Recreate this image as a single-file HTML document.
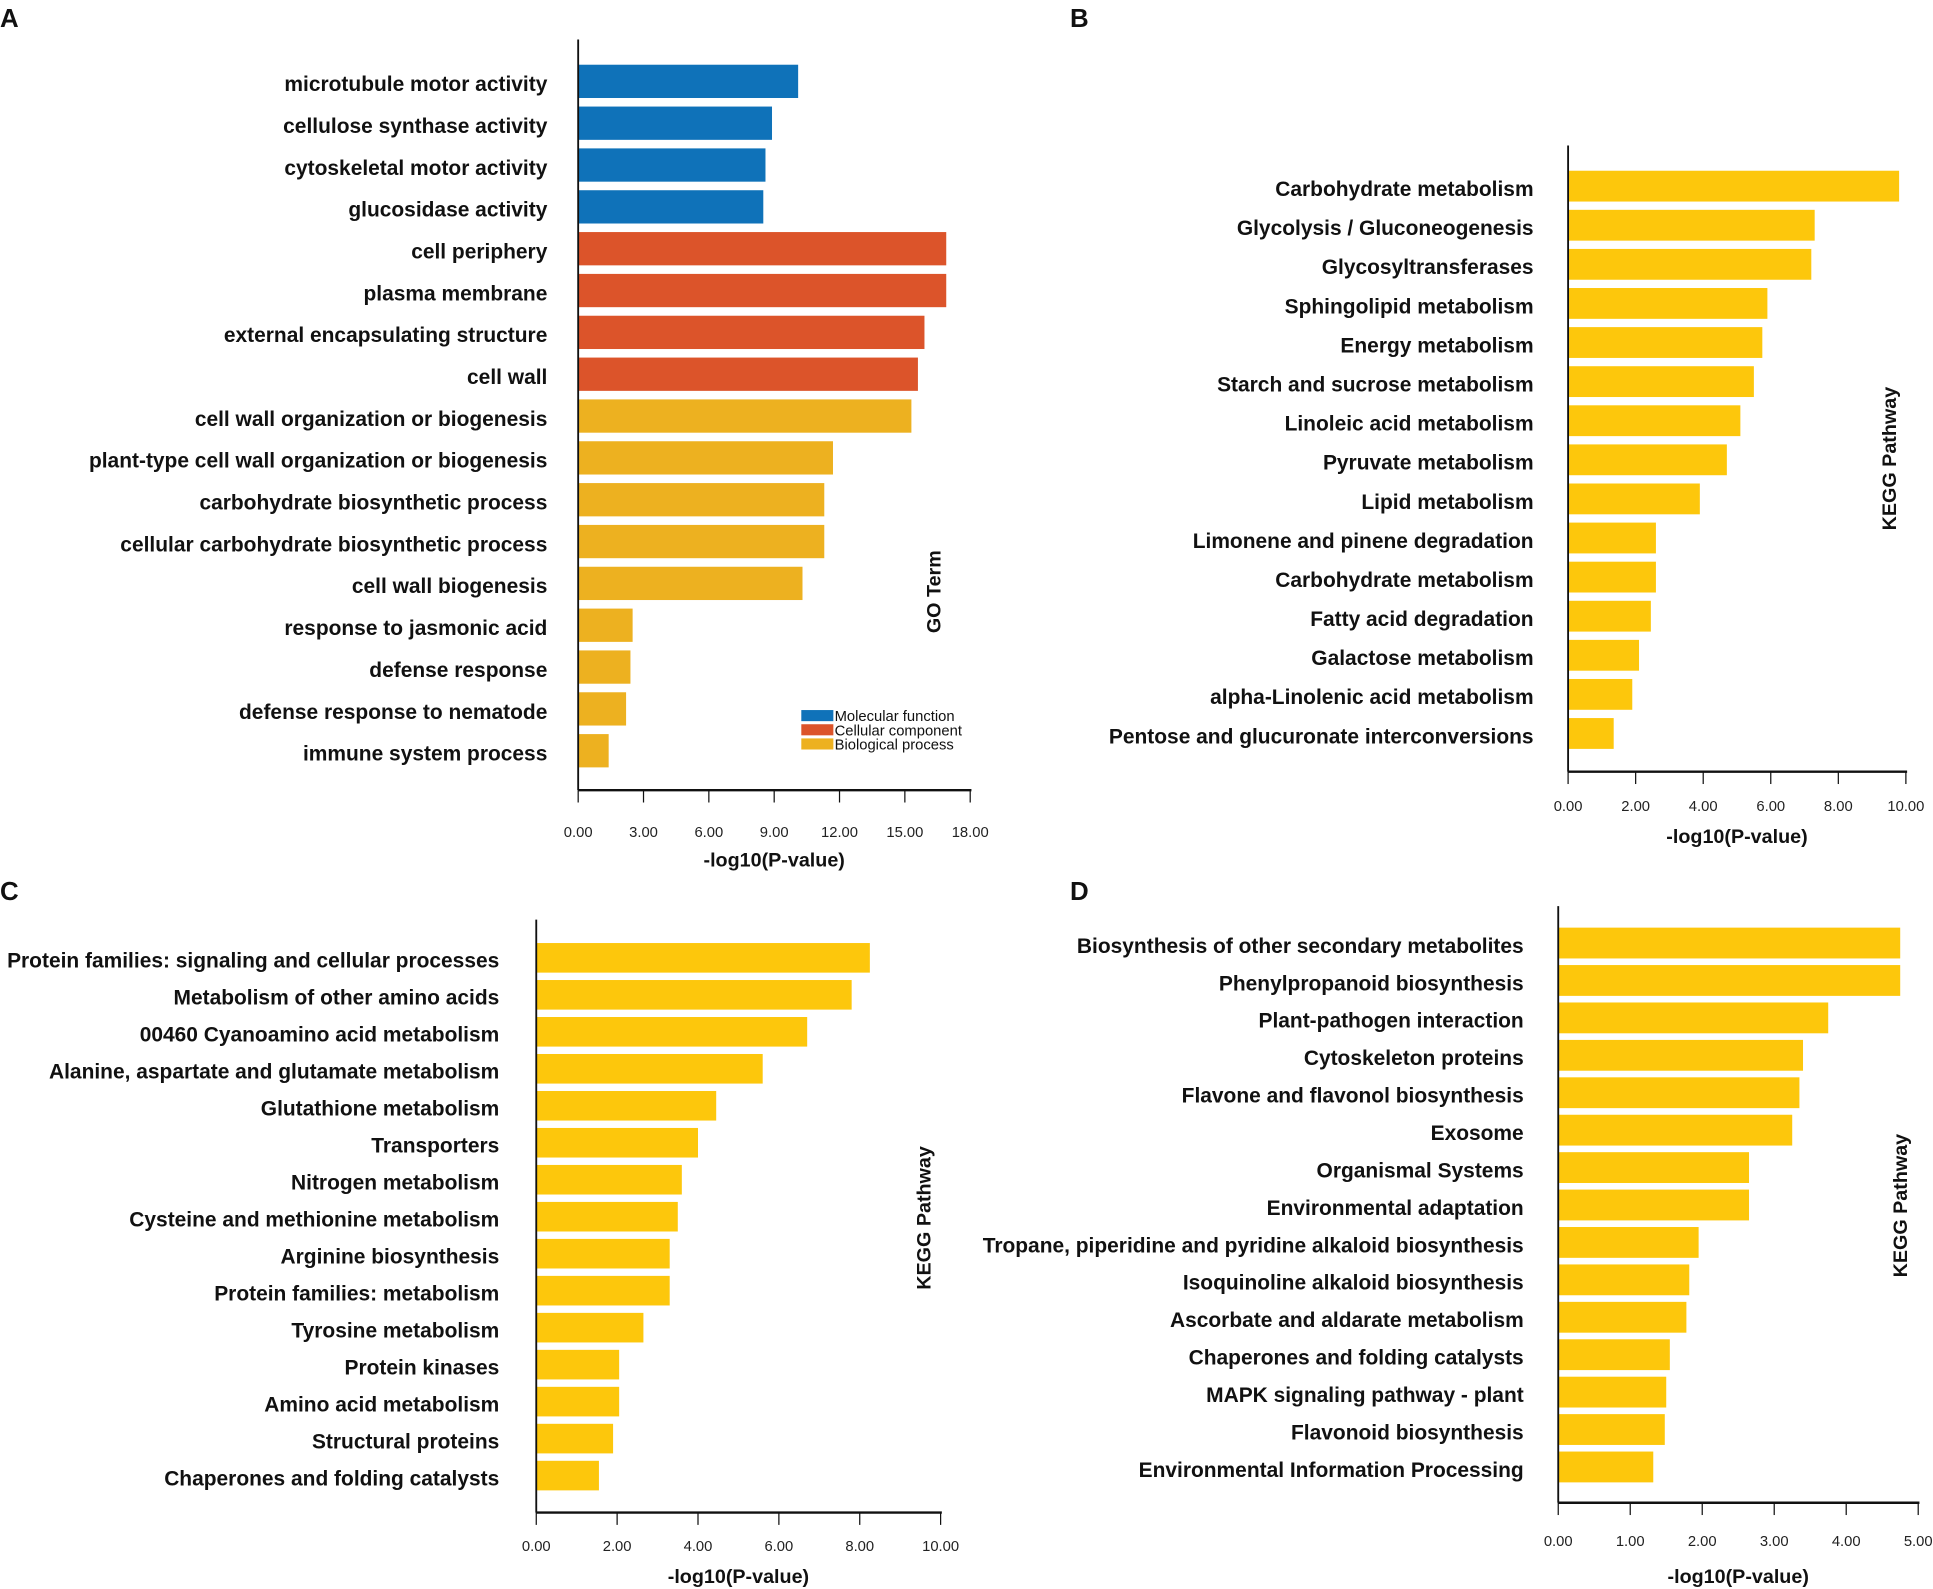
<!DOCTYPE html>
<html><head><meta charset="utf-8"><style>
html,body{margin:0;padding:0;background:#fff;}
svg{display:block;}
text{font-family:"Liberation Sans",Arial,sans-serif;}
</style></head><body>
<svg id="chart" width="1933" height="1589" viewBox="0 0 1568 1289" preserveAspectRatio="none"></svg>
<script>
const aLabels=["microtubule motor activity","cellulose synthase activity","cytoskeletal motor activity","glucosidase activity","cell periphery","plasma membrane","external encapsulating structure","cell wall","cell wall organization or biogenesis","plant-type cell wall organization or biogenesis","carbohydrate biosynthetic process","cellular carbohydrate biosynthetic process","cell wall biogenesis","response to jasmonic acid","defense response","defense response to nematode","immune system process"];
const aValues=[10.1,8.9,8.6,8.5,16.9,16.9,15.9,15.6,15.3,11.7,11.3,11.3,10.3,2.5,2.4,2.2,1.4];
const aGroups=[0,0,0,0,1,1,1,1,2,2,2,2,2,2,2,2,2];
const aTicks=["0.00","3.00","6.00","9.00","12.00","15.00","18.00"];
const bLabels=["Carbohydrate metabolism","Glycolysis / Gluconeogenesis","Glycosyltransferases","Sphingolipid metabolism","Energy metabolism","Starch and sucrose metabolism","Linoleic acid metabolism","Pyruvate metabolism","Lipid metabolism","Limonene and pinene degradation","Carbohydrate metabolism","Fatty acid degradation","Galactose metabolism","alpha-Linolenic acid metabolism","Pentose and glucuronate interconversions"];
const bValues=[9.8,7.3,7.2,5.9,5.75,5.5,5.1,4.7,3.9,2.6,2.6,2.45,2.1,1.9,1.35];
const bTicks=["0.00","2.00","4.00","6.00","8.00","10.00"];
const cLabels=["Protein families: signaling and cellular processes","Metabolism of other amino acids","00460 Cyanoamino acid metabolism","Alanine, aspartate and glutamate metabolism","Glutathione metabolism","Transporters","Nitrogen metabolism","Cysteine and methionine metabolism","Arginine biosynthesis","Protein families: metabolism","Tyrosine metabolism","Protein kinases","Amino acid metabolism","Structural proteins","Chaperones and folding catalysts"];
const cValues=[8.25,7.8,6.7,5.6,4.45,4.0,3.6,3.5,3.3,3.3,2.65,2.05,2.05,1.9,1.55];
const cTicks=["0.00","2.00","4.00","6.00","8.00","10.00"];
const dLabels=["Biosynthesis of other secondary metabolites","Phenylpropanoid biosynthesis","Plant-pathogen interaction","Cytoskeleton proteins","Flavone and flavonol biosynthesis","Exosome","Organismal Systems","Environmental adaptation","Tropane, piperidine and pyridine alkaloid biosynthesis","Isoquinoline alkaloid biosynthesis","Ascorbate and aldarate metabolism","Chaperones and folding catalysts","MAPK signaling pathway - plant","Flavonoid biosynthesis","Environmental Information Processing"];
const dValues=[4.75,4.75,3.75,3.4,3.35,3.25,2.65,2.65,1.95,1.82,1.78,1.55,1.5,1.48,1.32];
const dTicks=["0.00","1.00","2.00","3.00","4.00","5.00"];
const groupNames=["Molecular function","Cellular component","Biological process"];

const NS="http://www.w3.org/2000/svg";
const svg=document.getElementById('chart');
function el(tag,attrs,parent,txt){const e=document.createElementNS(NS,tag);for(const k in attrs)e.setAttribute(k,attrs[k]);if(txt!==undefined)e.textContent=txt;(parent||svg).appendChild(e);return e;}

const groupColors=["#0f72b9","#dc542a","#edb120"];
function panel(cfg){
  const g=el('g',{});
  
  
  const xmax=parseFloat(cfg.ticks[cfg.ticks.length-1]);
  const xs=v=>cfg.x0+(v/xmax)*(cfg.x1-cfg.x0);
  const n=cfg.labels.length;
  const step=(cfg.lastY-cfg.firstY)/(n-1);
  const ys=i=>cfg.firstY+i*step;
  cfg.values.forEach((v,i)=>{
    const r=el('rect',{x:cfg.x0,y:ys(i)-cfg.bh/2,width:xs(v)-cfg.x0,height:cfg.bh,fill:cfg.groups?groupColors[cfg.groups[i]]:cfg.color},g);
    
    
    const t=el('text',{x:cfg.lx,y:ys(i)+8,'text-anchor':'end','font-size':cfg.fs,'font-weight':'bold',fill:'#111'},g,cfg.labels[i]);
    
    
  });
  const ax=el('line',{x1:cfg.x0,y1:cfg.top,x2:cfg.x0,y2:cfg.bottom,stroke:'#111','stroke-width':1.5},g);
  
  
  const xa=el('line',{x1:cfg.x0,y1:cfg.bottom,x2:cfg.x1+1,y2:cfg.bottom,stroke:'#111','stroke-width':2},g);
  
  
  cfg.ticks.forEach(tk=>{
    const x=xs(parseFloat(tk));
    el('line',{x1:x,y1:cfg.bottom,x2:x,y2:cfg.bottom+10,stroke:'#111','stroke-width':1},g);
    const t=el('text',{x:x,y:cfg.bottom+cfg.tko,'text-anchor':'middle','font-size':12,fill:'#222'},g,tk);
    
    
  });
  const xt=el('text',{x:(cfg.x0+cfg.x1)/2,y:cfg.bottom+cfg.tto,'text-anchor':'middle','font-size':16,'font-weight':'bold',fill:'#111'},g,'-log10(P-value)');
  
  
  const yt=el('text',{x:0,y:0,transform:`translate(${cfg.yx},${cfg.yy}) rotate(-90)`,'text-anchor':'middle','font-size':16,'font-weight':'bold',fill:'#111'},g,cfg.ytitle);
  
  
  const pl=el('text',{x:cfg.px,y:cfg.py,'font-size':21,'font-weight':'bold',fill:'#111'},g,cfg.letter);
  
  
}
panel({id:'panel-a',labels:aLabels,values:aValues,groups:aGroups,ticks:aTicks,x0:469,x1:787,top:32,bottom:641,firstY:66,lastY:609,bh:27,lx:444,fs:17,tko:38,tto:62,yx:763,yy:480,ytitle:'GO Term',letter:'A',px:0,py:22});
panel({id:'panel-b',labels:bLabels,values:bValues,color:'#fdc70c',ticks:bTicks,x0:1272,x1:1546,top:118,bottom:626,firstY:151,lastY:595,bh:25,lx:1244,fs:17,tko:32,tto:58,yx:1538,yy:372,ytitle:'KEGG Pathway',letter:'B',px:868,py:22});
panel({id:'panel-c',labels:cLabels,values:cValues,color:'#fdc70c',ticks:cTicks,x0:435,x1:763,top:746,bottom:1227,firstY:777,lastY:1197,bh:24,lx:405,fs:17,tko:31,tto:57,yx:755,yy:988,ytitle:'KEGG Pathway',letter:'C',px:0,py:730});
panel({id:'panel-d',labels:dLabels,values:dValues,color:'#fdc70c',ticks:dTicks,x0:1264,x1:1556,top:735,bottom:1219,firstY:765,lastY:1190,bh:25,lx:1236,fs:17,tko:35,tto:65,yx:1547,yy:978,ytitle:'KEGG Pathway',letter:'D',px:868,py:730});

const lg=el('g',{});


groupNames.forEach((nm,i)=>{
  const y=576+i*11.5;
  const r=el('rect',{x:650,y:y,width:26,height:9,fill:groupColors[i]},lg);
  
  
  const t=el('text',{x:677,y:y+9,'font-size':12,fill:'#111'},lg,nm);
  
  
});
</script>
</body></html>
